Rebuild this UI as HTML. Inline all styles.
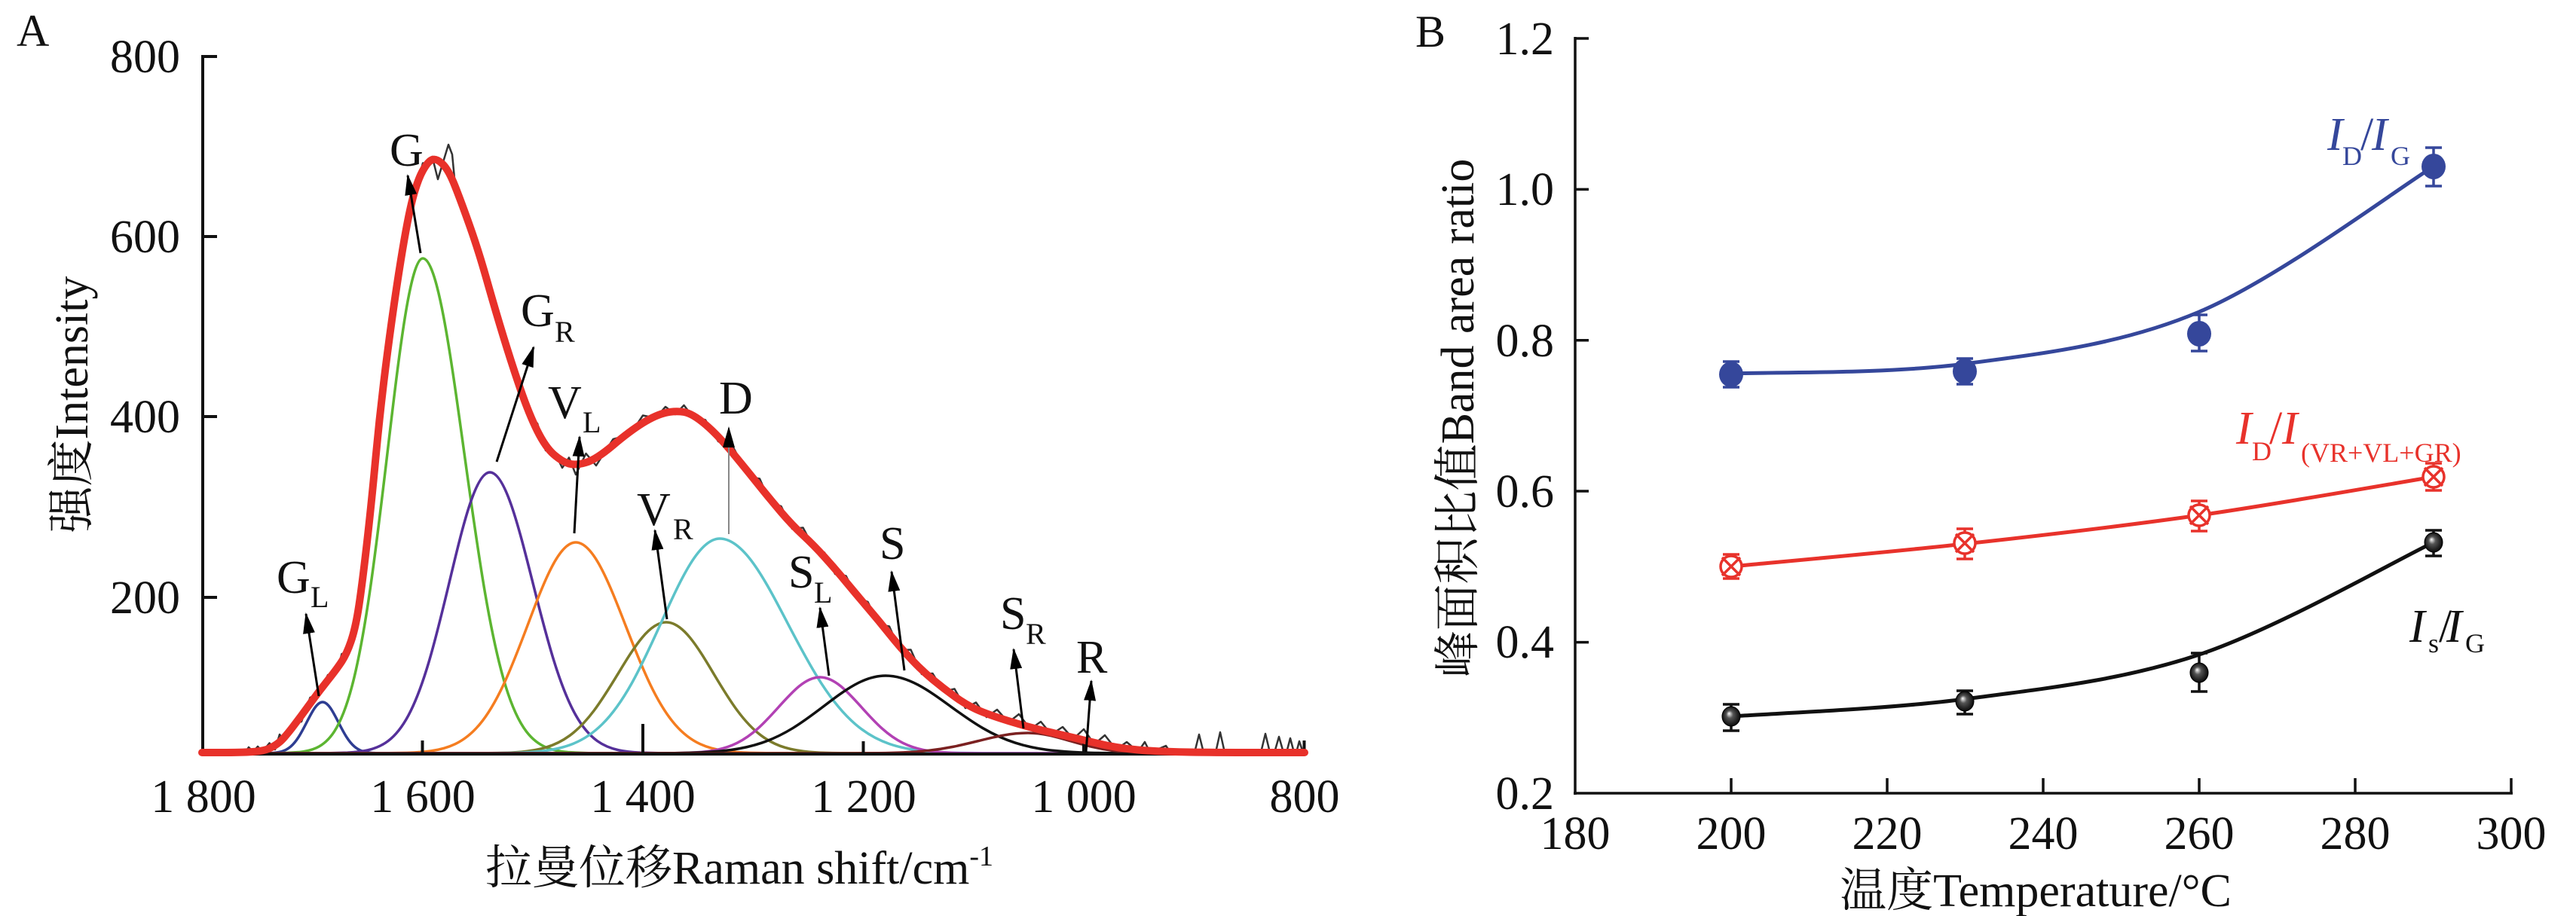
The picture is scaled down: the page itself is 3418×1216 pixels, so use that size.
<!DOCTYPE html>
<html>
<head>
<meta charset="utf-8">
<style>
  html,body{margin:0;padding:0;background:#fff;}
  svg{display:block;}
  text{font-family:"Liberation Serif","Noto Serif CJK SC",serif;}
</style>
</head>
<body>
<svg width="3418" height="1216" viewBox="0 0 3418 1216" xmlns="http://www.w3.org/2000/svg">
  <defs>
    <marker id="ah" markerWidth="28" markerHeight="16" refX="26" refY="8" orient="auto" markerUnits="userSpaceOnUse">
      <path d="M0,0 L28,8 L0,16 z" fill="#000"/>
    </marker>
    <radialGradient id="sph" cx="50%" cy="50%" r="55%" fx="38%" fy="35%">
      <stop offset="0" stop-color="#ffffff"/>
      <stop offset="0.35" stop-color="#555555"/>
      <stop offset="1" stop-color="#000000"/>
    </radialGradient>
    <clipPath id="clipA"><rect x="268" y="0" width="1463" height="1010"/></clipPath>
  </defs>
  <rect x="0" y="0" width="3418" height="1216" fill="#fff"/>

  <!-- ================= PANEL A ================= -->
  <text x="22" y="61" font-size="60" fill="#111">A</text>

  <!-- component curves -->
  <g clip-path="url(#clipA)" fill="none" stroke-width="3.5" stroke-linejoin="round">
    <g stroke="#2e3d92">
      <path vector-effect="non-scaling-stroke" transform="translate(428,1000) scale(21,-68)" d="M0,1 C0.1667,1 0.3333,0.956 0.5,0.8825 C0.6667,0.809 0.8333,0.7076 1,0.6065 C1.1667,0.5054 1.3333,0.4059 1.5,0.3247 C1.6667,0.2435 1.8333,0.1804 2,0.1353 C2.1667,0.0902 2.3333,0.0622 2.5,0.0439 C2.6667,0.0256 2.8333,0.0167 3,0.0111 C3.1667,0.0055 3.3333,0.0035 3.5,0.0022 L4,0.0003 L80,0"/>
      <path vector-effect="non-scaling-stroke" transform="translate(428,1000) scale(-21,-68)" d="M0,1 C0.1667,1 0.3333,0.956 0.5,0.8825 C0.6667,0.809 0.8333,0.7076 1,0.6065 C1.1667,0.5054 1.3333,0.4059 1.5,0.3247 C1.6667,0.2435 1.8333,0.1804 2,0.1353 C2.1667,0.0902 2.3333,0.0622 2.5,0.0439 C2.6667,0.0256 2.8333,0.0167 3,0.0111 C3.1667,0.0055 3.3333,0.0035 3.5,0.0022 L4,0.0003 L80,0"/>
    </g>
    <g stroke="#5cb531">
      <path vector-effect="non-scaling-stroke" transform="translate(561,1000) scale(55,-657)" d="M0,1 C0.1667,1 0.3333,0.956 0.5,0.8825 C0.6667,0.809 0.8333,0.7076 1,0.6065 C1.1667,0.5054 1.3333,0.4059 1.5,0.3247 C1.6667,0.2435 1.8333,0.1804 2,0.1353 C2.1667,0.0902 2.3333,0.0622 2.5,0.0439 C2.6667,0.0256 2.8333,0.0167 3,0.0111 C3.1667,0.0055 3.3333,0.0035 3.5,0.0022 L4,0.0003 L80,0"/>
      <path vector-effect="non-scaling-stroke" transform="translate(561,1000) scale(-47,-657)" d="M0,1 C0.1667,1 0.3333,0.956 0.5,0.8825 C0.6667,0.809 0.8333,0.7076 1,0.6065 C1.1667,0.5054 1.3333,0.4059 1.5,0.3247 C1.6667,0.2435 1.8333,0.1804 2,0.1353 C2.1667,0.0902 2.3333,0.0622 2.5,0.0439 C2.6667,0.0256 2.8333,0.0167 3,0.0111 C3.1667,0.0055 3.3333,0.0035 3.5,0.0022 L4,0.0003 L80,0"/>
    </g>
    <g stroke="#55309a">
      <path vector-effect="non-scaling-stroke" transform="translate(650,1000) scale(57,-373)" d="M0,1 C0.1667,1 0.3333,0.956 0.5,0.8825 C0.6667,0.809 0.8333,0.7076 1,0.6065 C1.1667,0.5054 1.3333,0.4059 1.5,0.3247 C1.6667,0.2435 1.8333,0.1804 2,0.1353 C2.1667,0.0902 2.3333,0.0622 2.5,0.0439 C2.6667,0.0256 2.8333,0.0167 3,0.0111 C3.1667,0.0055 3.3333,0.0035 3.5,0.0022 L4,0.0003 L80,0"/>
      <path vector-effect="non-scaling-stroke" transform="translate(650,1000) scale(-54,-373)" d="M0,1 C0.1667,1 0.3333,0.956 0.5,0.8825 C0.6667,0.809 0.8333,0.7076 1,0.6065 C1.1667,0.5054 1.3333,0.4059 1.5,0.3247 C1.6667,0.2435 1.8333,0.1804 2,0.1353 C2.1667,0.0902 2.3333,0.0622 2.5,0.0439 C2.6667,0.0256 2.8333,0.0167 3,0.0111 C3.1667,0.0055 3.3333,0.0035 3.5,0.0022 L4,0.0003 L80,0"/>
    </g>
    <g stroke="#f57d20">
      <path vector-effect="non-scaling-stroke" transform="translate(764,1000) scale(66,-280)" d="M0,1 C0.1667,1 0.3333,0.956 0.5,0.8825 C0.6667,0.809 0.8333,0.7076 1,0.6065 C1.1667,0.5054 1.3333,0.4059 1.5,0.3247 C1.6667,0.2435 1.8333,0.1804 2,0.1353 C2.1667,0.0902 2.3333,0.0622 2.5,0.0439 C2.6667,0.0256 2.8333,0.0167 3,0.0111 C3.1667,0.0055 3.3333,0.0035 3.5,0.0022 L4,0.0003 L80,0"/>
      <path vector-effect="non-scaling-stroke" transform="translate(764,1000) scale(-64,-280)" d="M0,1 C0.1667,1 0.3333,0.956 0.5,0.8825 C0.6667,0.809 0.8333,0.7076 1,0.6065 C1.1667,0.5054 1.3333,0.4059 1.5,0.3247 C1.6667,0.2435 1.8333,0.1804 2,0.1353 C2.1667,0.0902 2.3333,0.0622 2.5,0.0439 C2.6667,0.0256 2.8333,0.0167 3,0.0111 C3.1667,0.0055 3.3333,0.0035 3.5,0.0022 L4,0.0003 L80,0"/>
    </g>
    <g stroke="#7b7b2b">
      <path vector-effect="non-scaling-stroke" transform="translate(884,1000) scale(63,-174)" d="M0,1 C0.1667,1 0.3333,0.956 0.5,0.8825 C0.6667,0.809 0.8333,0.7076 1,0.6065 C1.1667,0.5054 1.3333,0.4059 1.5,0.3247 C1.6667,0.2435 1.8333,0.1804 2,0.1353 C2.1667,0.0902 2.3333,0.0622 2.5,0.0439 C2.6667,0.0256 2.8333,0.0167 3,0.0111 C3.1667,0.0055 3.3333,0.0035 3.5,0.0022 L4,0.0003 L80,0"/>
      <path vector-effect="non-scaling-stroke" transform="translate(884,1000) scale(-64,-174)" d="M0,1 C0.1667,1 0.3333,0.956 0.5,0.8825 C0.6667,0.809 0.8333,0.7076 1,0.6065 C1.1667,0.5054 1.3333,0.4059 1.5,0.3247 C1.6667,0.2435 1.8333,0.1804 2,0.1353 C2.1667,0.0902 2.3333,0.0622 2.5,0.0439 C2.6667,0.0256 2.8333,0.0167 3,0.0111 C3.1667,0.0055 3.3333,0.0035 3.5,0.0022 L4,0.0003 L80,0"/>
    </g>
    <g stroke="#5cc3c9">
      <path vector-effect="non-scaling-stroke" transform="translate(955,1000) scale(90,-285)" d="M0,1 C0.1667,1 0.3333,0.956 0.5,0.8825 C0.6667,0.809 0.8333,0.7076 1,0.6065 C1.1667,0.5054 1.3333,0.4059 1.5,0.3247 C1.6667,0.2435 1.8333,0.1804 2,0.1353 C2.1667,0.0902 2.3333,0.0622 2.5,0.0439 C2.6667,0.0256 2.8333,0.0167 3,0.0111 C3.1667,0.0055 3.3333,0.0035 3.5,0.0022 L4,0.0003 L80,0"/>
      <path vector-effect="non-scaling-stroke" transform="translate(955,1000) scale(-78,-285)" d="M0,1 C0.1667,1 0.3333,0.956 0.5,0.8825 C0.6667,0.809 0.8333,0.7076 1,0.6065 C1.1667,0.5054 1.3333,0.4059 1.5,0.3247 C1.6667,0.2435 1.8333,0.1804 2,0.1353 C2.1667,0.0902 2.3333,0.0622 2.5,0.0439 C2.6667,0.0256 2.8333,0.0167 3,0.0111 C3.1667,0.0055 3.3333,0.0035 3.5,0.0022 L4,0.0003 L80,0"/>
    </g>
    <g stroke="#b241b4">
      <path vector-effect="non-scaling-stroke" transform="translate(1088,1000) scale(55,-101)" d="M0,1 C0.1667,1 0.3333,0.956 0.5,0.8825 C0.6667,0.809 0.8333,0.7076 1,0.6065 C1.1667,0.5054 1.3333,0.4059 1.5,0.3247 C1.6667,0.2435 1.8333,0.1804 2,0.1353 C2.1667,0.0902 2.3333,0.0622 2.5,0.0439 C2.6667,0.0256 2.8333,0.0167 3,0.0111 C3.1667,0.0055 3.3333,0.0035 3.5,0.0022 L4,0.0003 L80,0"/>
      <path vector-effect="non-scaling-stroke" transform="translate(1088,1000) scale(-55,-101)" d="M0,1 C0.1667,1 0.3333,0.956 0.5,0.8825 C0.6667,0.809 0.8333,0.7076 1,0.6065 C1.1667,0.5054 1.3333,0.4059 1.5,0.3247 C1.6667,0.2435 1.8333,0.1804 2,0.1353 C2.1667,0.0902 2.3333,0.0622 2.5,0.0439 C2.6667,0.0256 2.8333,0.0167 3,0.0111 C3.1667,0.0055 3.3333,0.0035 3.5,0.0022 L4,0.0003 L80,0"/>
    </g>
    <g stroke="#111111">
      <path vector-effect="non-scaling-stroke" transform="translate(1175,1000) scale(86,-103)" d="M0,1 C0.1667,1 0.3333,0.956 0.5,0.8825 C0.6667,0.809 0.8333,0.7076 1,0.6065 C1.1667,0.5054 1.3333,0.4059 1.5,0.3247 C1.6667,0.2435 1.8333,0.1804 2,0.1353 C2.1667,0.0902 2.3333,0.0622 2.5,0.0439 C2.6667,0.0256 2.8333,0.0167 3,0.0111 C3.1667,0.0055 3.3333,0.0035 3.5,0.0022 L4,0.0003 L80,0"/>
      <path vector-effect="non-scaling-stroke" transform="translate(1175,1000) scale(-82,-103)" d="M0,1 C0.1667,1 0.3333,0.956 0.5,0.8825 C0.6667,0.809 0.8333,0.7076 1,0.6065 C1.1667,0.5054 1.3333,0.4059 1.5,0.3247 C1.6667,0.2435 1.8333,0.1804 2,0.1353 C2.1667,0.0902 2.3333,0.0622 2.5,0.0439 C2.6667,0.0256 2.8333,0.0167 3,0.0111 C3.1667,0.0055 3.3333,0.0035 3.5,0.0022 L4,0.0003 L80,0"/>
    </g>
    <g stroke="#7b2121">
      <path vector-effect="non-scaling-stroke" transform="translate(1364,1000) scale(56,-27)" d="M0,1 C0.1667,1 0.3333,0.956 0.5,0.8825 C0.6667,0.809 0.8333,0.7076 1,0.6065 C1.1667,0.5054 1.3333,0.4059 1.5,0.3247 C1.6667,0.2435 1.8333,0.1804 2,0.1353 C2.1667,0.0902 2.3333,0.0622 2.5,0.0439 C2.6667,0.0256 2.8333,0.0167 3,0.0111 C3.1667,0.0055 3.3333,0.0035 3.5,0.0022 L4,0.0003 L80,0"/>
      <path vector-effect="non-scaling-stroke" transform="translate(1364,1000) scale(-66,-27)" d="M0,1 C0.1667,1 0.3333,0.956 0.5,0.8825 C0.6667,0.809 0.8333,0.7076 1,0.6065 C1.1667,0.5054 1.3333,0.4059 1.5,0.3247 C1.6667,0.2435 1.8333,0.1804 2,0.1353 C2.1667,0.0902 2.3333,0.0622 2.5,0.0439 C2.6667,0.0256 2.8333,0.0167 3,0.0111 C3.1667,0.0055 3.3333,0.0035 3.5,0.0022 L4,0.0003 L80,0"/>
    </g>
  </g>

  <!-- axes A -->
  <g stroke="#111" stroke-width="4" fill="none">
    <line x1="269" y1="73" x2="269" y2="1003"/>
    <line x1="267" y1="1001" x2="1733" y2="1001"/>
    <line x1="269" y1="75" x2="288" y2="75"/>
    <line x1="269" y1="314" x2="288" y2="314"/>
    <line x1="269" y1="553" x2="288" y2="553"/>
    <line x1="269" y1="793" x2="288" y2="793"/>
    <line x1="560.5" y1="983" x2="560.5" y2="1001"/>
    <line x1="853" y1="961" x2="853" y2="1001"/>
    <line x1="1145.5" y1="984" x2="1145.5" y2="1001"/>
    <line x1="1438" y1="984" x2="1438" y2="1001"/>
    <line x1="1730.5" y1="983" x2="1730.5" y2="1001"/>
  </g>

  <!-- raw noisy spectrum -->
  <polyline fill="none" stroke="#333" stroke-width="2.5" stroke-linejoin="round" points="
    272,999 326,998 330,992 336,998 342,991 348,998 357.5,986.5 365,995 371,975 377,984 388.5,960 400,958 411.5,926 423,921
    435,896 447,893 453.5,868 460,872 465.5,847 471,844 475,804 479,791 485.5,725.5 492,682 498.5,597.5 505,542 514,464
    523,408 532,336.5 541,292 547.5,257 554,244 561,216.5 568,218 573.5,208 581,238 588,215 595,192 600,205 603.5,242
    612,272 623.5,290.5 635,337 646,367 657,419 668,439 679,486 690.5,509.5 702,555 713,562 724,598 735,598.5 746,621
    755,607.5 764,630 777.5,602 791,618 813.5,583 836,577 853,551.5 870,555 883,540 896,550 907.5,538 919,553 936,557.5
    953,586 973.5,595 994,633 1008,635.5 1022,667 1036.5,672 1051,702 1065.5,700.5 1080,728 1094,733.5 1108,762
    1122.5,764.5 1137,793 1151.5,799 1166,829 1180,831.5 1194,863 1208.5,862.5 1223,895 1237.5,894 1252,918 1266.5,914.5
    1281,940 1295,932.5 1309,952 1323,942 1338,959 1352,948 1367,968 1381,958 1395,975 1410,965 1424,981 1438,968
    1452,988 1466,976 1481,995 1495,985 1510,998 1519,985 1526,999 1547,990 1553,999 1585,999 1591,975 1597,999
    1613,999 1619,972 1625,999 1673,999 1679,974 1685,999 1691,999 1697,978 1703,999 1707,999 1712,980 1717,999
    1720,999 1724,984 1729,999"/>

  <!-- fitted sum (red) -->
  <path fill="none" stroke="#e8312a" stroke-width="10" stroke-linejoin="round" stroke-linecap="round"
    d="M268,999 L294,999 Q320,999 335,998 Q350,997 357.5,993.5 Q365,990 371,985 Q377,980 388.5,965 Q400,950 411.5,934 Q423,918 435,903 Q447,888 453.5,878 Q460,868 465.5,852 Q471,836 475,812 Q479,788 485.5,732.5 Q492,677 498.5,607.5 Q505,538 514,469 Q523,400 532,344.5 Q541,289 547.5,264 Q554,239 561,226.5 Q568,214 573.5,212 Q579,210 587,217.5 Q595,225 603.5,246.5 Q612,268 623.5,300.5 Q635,333 646,372 Q657,411 668,447 Q679,483 690.5,516.5 Q702,550 713,572 Q724,594 735,603.5 Q746,613 755,615.5 Q764,618 777.5,614 Q791,610 813.5,591 Q836,572 853,561.5 Q870,551 883,548 Q896,545 907.5,547 Q919,549 936,563.5 Q953,578 973.5,603 Q994,628 1008,645.5 Q1022,663 1036.5,680 Q1051,697 1065.5,710.5 Q1080,724 1094,739.5 Q1108,755 1122.5,772.5 Q1137,790 1151.5,807 Q1166,824 1180,841.5 Q1194,859 1208.5,874.5 Q1223,890 1237.5,902 Q1252,914 1266.5,924.5 Q1281,935 1295,941.5 Q1309,948 1338,957 Q1367,966 1395.5,972.5 Q1424,979 1452.5,986 Q1481,993 1510,995.5 Q1539,998 1579.5,998.5 Q1620,999 1675.5,999 L1731,999"/>

  <!-- arrows -->
  <g stroke="#000" stroke-width="3" fill="none">
    <line x1="423" y1="924" x2="406" y2="815" marker-end="url(#ah)"/>
    <line x1="558" y1="336" x2="541" y2="233" marker-end="url(#ah)"/>
    <line x1="659" y1="613" x2="708" y2="461" marker-end="url(#ah)"/>
    <line x1="762" y1="708" x2="769" y2="580" marker-end="url(#ah)"/>
    <line x1="885" y1="822" x2="869" y2="704" marker-end="url(#ah)"/>
    <line x1="967" y1="709" x2="967" y2="568" stroke="#888" stroke-width="2" marker-end="url(#ah)"/>
    <line x1="1100" y1="897" x2="1088" y2="807" marker-end="url(#ah)"/>
    <line x1="1200" y1="890" x2="1183" y2="759" marker-end="url(#ah)"/>
    <line x1="1358" y1="967" x2="1345" y2="862" marker-end="url(#ah)"/>
    <line x1="1441" y1="998" x2="1448" y2="904" marker-end="url(#ah)"/>
  </g>

  <!-- peak labels -->
  <g fill="#111" font-size="62">
    <text x="367" y="787">G</text><text x="412" y="806" font-size="40">L</text>
    <text x="517" y="220">G</text>
    <text x="691" y="433">G</text><text x="736" y="454" font-size="40">R</text>
    <text x="727" y="555">V</text><text x="773" y="574" font-size="40">L</text>
    <text x="845" y="697">V</text><text x="893" y="716" font-size="40">R</text>
    <text x="954" y="549">D</text>
    <text x="1046" y="780">S</text><text x="1080" y="800" font-size="40">L</text>
    <text x="1167" y="742">S</text>
    <text x="1327" y="835">S</text><text x="1361" y="855" font-size="40">R</text>
    <text x="1428" y="893">R</text>
  </g>

  <!-- A tick labels -->
  <g fill="#111" font-size="62" text-anchor="end">
    <text x="239" y="96">800</text>
    <text x="239" y="335">600</text>
    <text x="239" y="574">400</text>
    <text x="239" y="814">200</text>
  </g>
  <g fill="#111" font-size="62" text-anchor="middle">
    <text x="270" y="1078">1 800</text>
    <text x="561" y="1078">1 600</text>
    <text x="853" y="1078">1 400</text>
    <text x="1146" y="1078">1 200</text>
    <text x="1438" y="1078">1 000</text>
    <text x="1731" y="1078">800</text>
  </g>
  <text x="644" y="1173" font-size="62" fill="#111">拉曼位移Raman shift/cm<tspan font-size="38" dy="-24">-1</tspan></text>
  <text transform="translate(116,537) rotate(-90)" text-anchor="middle" font-size="62" fill="#111">强度Intensity</text>

  <!-- ================= PANEL B ================= -->
  <text x="1878" y="62" font-size="60" fill="#111">B</text>

  <g stroke="#111" stroke-width="3.5" fill="none">
    <line x1="2090" y1="49" x2="2090" y2="1055"/>
    <line x1="2088" y1="1053" x2="3334" y2="1053"/>
    <line x1="2090" y1="51" x2="2108" y2="51"/>
    <line x1="2090" y1="251.4" x2="2108" y2="251.4"/>
    <line x1="2090" y1="451.8" x2="2108" y2="451.8"/>
    <line x1="2090" y1="652" x2="2108" y2="652"/>
    <line x1="2090" y1="852.6" x2="2108" y2="852.6"/>
    <line x1="2297" y1="1033" x2="2297" y2="1053"/>
    <line x1="2504" y1="1033" x2="2504" y2="1053"/>
    <line x1="2711" y1="1033" x2="2711" y2="1053"/>
    <line x1="2918" y1="1033" x2="2918" y2="1053"/>
    <line x1="3125" y1="1033" x2="3125" y2="1053"/>
    <line x1="3332" y1="1033" x2="3332" y2="1053"/>
  </g>

  <g fill="#111" font-size="62" text-anchor="end">
    <text x="2062" y="72">1.2</text>
    <text x="2062" y="272">1.0</text>
    <text x="2062" y="473">0.8</text>
    <text x="2062" y="673">0.6</text>
    <text x="2062" y="873">0.4</text>
    <text x="2062" y="1074">0.2</text>
  </g>
  <g fill="#111" font-size="62" text-anchor="middle">
    <text x="2090" y="1127">180</text>
    <text x="2297" y="1127">200</text>
    <text x="2504" y="1127">220</text>
    <text x="2711" y="1127">240</text>
    <text x="2918" y="1127">260</text>
    <text x="3125" y="1127">280</text>
    <text x="3332" y="1127">300</text>
  </g>
  <text x="2701" y="1203" font-size="62" fill="#111" text-anchor="middle">温度Temperature/°C</text>
  <text transform="translate(1955,555) rotate(-90)" text-anchor="middle" font-size="62" fill="#111">峰面积比值Band area ratio</text>

  <!-- curves B -->
  <g fill="none" stroke-width="5" stroke-linecap="round">
    <path stroke="#35479b" d="M2297,496 C2348.7,493.8 2503.5,496.7 2607,483 C2710.5,469.3 2814.3,457.7 2918,414 C3021.7,370.3 3177.2,253.2 3229,221"/>
    <path stroke="#e8322b" d="M2297,752 C2348.7,747 2503.5,733.3 2607,722 C2710.5,710.7 2814.3,698.8 2918,684 C3021.7,669.2 3177.2,641.5 3229,633"/>
    <path stroke="#111" d="M2297,951 C2348.7,947.2 2503.5,941.7 2607,928 C2710.5,914.3 2814.3,903.7 2918,869 C3021.7,834.3 3177.2,744.8 3229,720"/>
  </g>

  <!-- error bars B -->
  <g stroke-width="3.5" fill="none">
    <g stroke="#35479b">
      <path d="M2297,480V514M2286,480H2308M2286,514H2308"/>
      <path d="M2607,476V510M2596,476H2618M2596,510H2618"/>
      <path d="M2918,418V466M2907,418H2929M2907,466H2929"/>
      <path d="M3229,196V247M3218,196H3240M3218,247H3240"/>
    </g>
    <g stroke="#e8322b">
      <path d="M2297,736V768M2286,736H2308M2286,768H2308"/>
      <path d="M2607,702V742M2596,702H2618M2596,742H2618"/>
      <path d="M2918,665V705M2907,665H2929M2907,705H2929"/>
      <path d="M3229,615V651M3218,615H3240M3218,651H3240"/>
    </g>
    <g stroke="#111">
      <path d="M2297,935V970M2286,935H2308M2286,970H2308"/>
      <path d="M2607,917V948M2596,917H2618M2596,948H2618"/>
      <path d="M2918,867V918M2907,867H2929M2907,918H2929"/>
      <path d="M3229,704V738M3218,704H3240M3218,738H3240"/>
    </g>
  </g>

  <!-- markers B -->
  <g fill="#35479b">
    <ellipse cx="2297" cy="497" rx="16" ry="17"/>
    <ellipse cx="2607" cy="493" rx="16" ry="17"/>
    <ellipse cx="2918" cy="443" rx="16" ry="17"/>
    <ellipse cx="3229" cy="221" rx="16" ry="17"/>
  </g>
  <g fill="#fff" stroke="#e8322b" stroke-width="3.5">
    <circle cx="2297" cy="752" r="14"/>
    <path d="M2285,740L2309,764M2309,740L2285,764"/>
    <circle cx="2607" cy="721" r="14"/>
    <path d="M2595,709L2619,733M2619,709L2595,733"/>
    <circle cx="2918" cy="684" r="14"/>
    <path d="M2906,672L2930,696M2930,672L2906,696"/>
    <circle cx="3229" cy="633" r="14"/>
    <path d="M3217,621L3241,645M3241,621L3217,645"/>
  </g>
  <g fill="url(#sph)" stroke="#000" stroke-width="1">
    <ellipse cx="2297" cy="951" rx="12" ry="13"/>
    <ellipse cx="2607" cy="931" rx="12" ry="13"/>
    <ellipse cx="2918" cy="893" rx="12" ry="13"/>
    <ellipse cx="3229" cy="720" rx="12" ry="13"/>
  </g>

  <!-- series labels B -->
  <text fill="#35479b" font-size="62">
    <tspan x="3088" y="199" font-style="italic">I</tspan><tspan x="3108" y="219" font-size="36">D</tspan><tspan x="3132" y="199">/</tspan><tspan x="3147" y="199" font-style="italic">I</tspan><tspan x="3172" y="219" font-size="36">G</tspan>
  </text>
  <text fill="#e8322b" font-size="62">
    <tspan x="2967" y="589" font-style="italic">I</tspan><tspan x="2988" y="611" font-size="36">D</tspan><tspan x="3011" y="589">/</tspan><tspan x="3028" y="589" font-style="italic">I</tspan><tspan x="3053" y="613" font-size="36">(VR+VL+GR)</tspan>
  </text>
  <text fill="#111" font-size="62">
    <tspan x="3197" y="852" font-style="italic">I</tspan><tspan x="3222" y="866" font-size="36">s</tspan><tspan x="3236" y="852">/</tspan><tspan x="3246" y="852" font-style="italic">I</tspan><tspan x="3271" y="866" font-size="36">G</tspan>
  </text>
</svg>
</body>
</html>
